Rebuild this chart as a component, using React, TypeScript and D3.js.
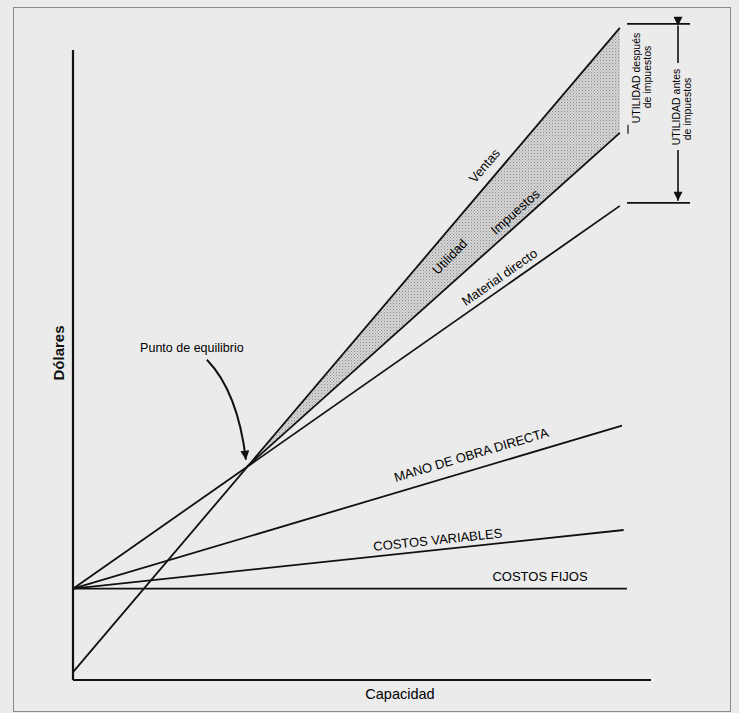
import * as d3 from 'd3'
import React from 'react'

// Cost / revenue lines: start and end points as (capacidad, dólares)
const lineNames = ['Ventas', 'Impuestos', 'Material directo', 'MANO DE OBRA DIRECTA', 'COSTOS VARIABLES', 'COSTOS FIJOS']
const lineStartCap = [0, 31.8, 0, 0, 0, 0]
const lineStartVal = [1.2, 32.7, 14, 14, 14, 14]
const lineEndCap = [100, 100, 100, 100.4, 100.7, 101.3]
const lineEndVal = [100, 83.9, 72.7, 39, 23, 14]

// Punto de equilibrio
const breakEvenCap = 31.8
const breakEvenVal = 32.7

const xMax = 105.7
const yMax = 96.6

const FONT = '"Liberation Sans", Arial, sans-serif'
const BG = '#ebebeb'

const App = () => {
  const width = 739
  const height = 713

  const x = d3.scaleLinear().domain([0, xMax]).range([73, 651])
  const y = d3.scaleLinear().domain([0, yMax]).range([680, 50])

  const lines = lineNames.map((name, i) => ({
    name,
    x0: lineStartCap[i], y0: lineStartVal[i],
    x1: lineEndCap[i], y1: lineEndVal[i],
  }))

  const valueAt = (l: any, c: number) => l.y0 + (l.y1 - l.y0) * (c - l.x0) / (l.x1 - l.x0)
  const angleOf = (l: any) => Math.atan2(y(l.y1) - y(l.y0), x(l.x1) - x(l.x0)) * 180 / Math.PI

  const lineGen = d3.line<[number, number]>().x(d => x(d[0])).y(d => y(d[1]))

  const ventas = lines[0]
  const impuestos = lines[1]
  const material = lines[2]
  const band: [number, number][] = [
    [breakEvenCap, breakEvenVal],
    [ventas.x1, ventas.y1],
    [impuestos.x1, impuestos.y1],
  ]

  // where each line's label sits (capacidad along the line, px above the line)
  const labelCap = [77.2, 82.2, 79.1, 73.6, 66.9, 85.4]
  const labelOffset = [14, 11, 10.6, 15, 10, 12]

  const utilCap = 68.9
  const utilMid = (valueAt(ventas, utilCap) + valueAt(impuestos, utilCap)) / 2
  const utilAngle = (angleOf(ventas) + angleOf(impuestos)) / 2

  const bx = x(breakEvenCap)
  const by = y(breakEvenVal)

  const topTick = y(ventas.y1) - 4
  const botTick = y(material.y1) - 3

  return (
    <svg width={width} height={height}
      style={{ position: 'absolute', left: 0, top: 0, background: BG }}
      fontFamily={FONT}>
      <defs>
        <marker id='head' viewBox='0 0 10 10' refX='10' refY='5'
          markerWidth='12' markerHeight='9' markerUnits='userSpaceOnUse' orient='auto'>
          <path d='M0,0 L10,5 L0,10 z' fill='#111' />
        </marker>
        <pattern id='dots' width='3' height='3' patternUnits='userSpaceOnUse'>
          <rect width='3' height='3' fill='#d4d4d4' />
          <rect width='1' height='1' fill='#8c8c8c' />
          <rect x='1.5' y='1.5' width='1' height='1' fill='#a8a8a8' />
        </pattern>
      </defs>
      <rect x={0} y={0} width={width} height={height} fill={BG} />
      {/* frame */}
      <rect x={13.5} y={7.5} width={717} height={704} fill='none' stroke='#8a8a8a' strokeWidth={1} />

      {/* shaded utilidad band */}
      <path d={lineGen(band) + 'Z'} fill='url(#dots)' stroke='none' />

      {/* axes */}
      <line x1={x(0)} x2={x(0)} y1={y(0)} y2={y(yMax)} stroke='#111' strokeWidth={2.2} />
      <line x1={x(0)} x2={x(xMax)} y1={y(0)} y2={y(0)} stroke='#111' strokeWidth={2.2} />

      {lines.map((l) => (
        <path key={l.name} d={lineGen([[l.x0, l.y0], [l.x1, l.y1]]) as string}
          stroke='#111' strokeWidth={1.8} fill='none' />
      ))}

      {lines.map((l, i) => {
        const c = labelCap[i]
        return (
          <text key={'t' + l.name}
            transform={`translate(${x(c)},${y(valueAt(l, c))}) rotate(${angleOf(l)})`}
            y={-labelOffset[i]} textAnchor='middle' dominantBaseline='central'
            fontSize={13} fill='#000'>{l.name}</text>
        )
      })}

      <text transform={`translate(${x(utilCap)},${y(utilMid)}) rotate(${utilAngle})`}
        textAnchor='middle' dominantBaseline='central' fontSize={13} fill='#000'>Utilidad</text>

      {/* punto de equilibrio */}
      <text x={bx - 55} y={by - 115} textAnchor='middle' fontSize={12.5} fill='#000'>Punto de equilibrio</text>
      <path d={`M${bx - 40},${by - 107} Q${bx - 9},${by - 75} ${bx - 1},${by - 7}`}
        fill='none' stroke='#111' strokeWidth={2} markerEnd='url(#head)' />

      {/* axis titles */}
      <text transform={`translate(${x(0) - 9},${(y(0) + y(yMax)) / 2 - 12}) rotate(-90)`}
        textAnchor='middle' fontSize={15} fontWeight='bold' fill='#111'>Dólares</text>
      <text x={400} y={699} textAnchor='middle' fontSize={14.5} fill='#000'>Capacidad</text>

      {/* right annotations */}
      <line x1={627} x2={690} y1={topTick} y2={topTick} stroke='#111' strokeWidth={1.6} />
      <line x1={627} x2={690} y1={botTick} y2={botTick} stroke='#111' strokeWidth={1.6} />
      <line x1={628} x2={628} y1={y(impuestos.y1) - 8} y2={y(impuestos.y1) + 1} stroke='#111' strokeWidth={1.2} />

      <text transform={`translate(640,78) rotate(-90)`} textAnchor='middle' fontSize={10.5} fill='#000'>UTILIDAD después</text>
      <text transform={`translate(651,77) rotate(-90)`} textAnchor='middle' fontSize={10.5} fill='#000'>de impuestos</text>

      <line x1={678} x2={678} y1={topTick + 2} y2={63} stroke='#111' strokeWidth={1.6} markerStart='url(#head)' />
      <line x1={678} x2={678} y1={150} y2={botTick - 2} stroke='#111' strokeWidth={1.6} markerEnd='url(#head)' />
      <text transform={`translate(680,107) rotate(-90)`} textAnchor='middle' fontSize={10.5} fill='#000'>UTILIDAD antes</text>
      <text transform={`translate(691,109) rotate(-90)`} textAnchor='middle' fontSize={10.5} fill='#000'>de impuestos</text>
    </svg>
  )
}

export default App
